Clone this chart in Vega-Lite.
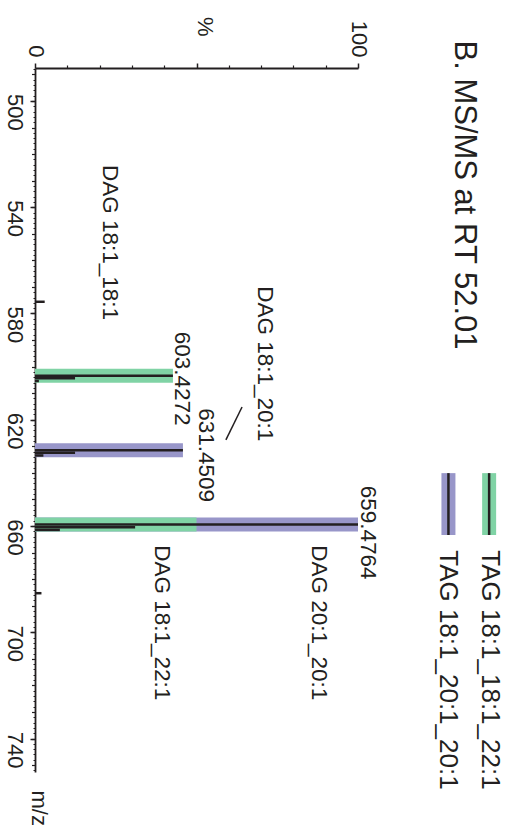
{
  "$schema": "https://vega.github.io/schema/vega-lite/v6.json",
  "autosize": "none",
  "width": 323,
  "height": 704,
  "padding": {"left": 35, "top": 68, "right": 156, "bottom": 59},
  "background": "white",
  "data": {"values": [{}]},
  "config": {
    "view": {"stroke": null},
    "font": "Liberation Sans",
    "axis": {"domainColor": "#231f20", "tickColor": "#231f20", "labelColor": "#231f20", "titleColor": "#231f20", "labelFont": "Liberation Sans", "titleFont": "Liberation Sans", "grid": false}
  },
  "datasets": {
    "bands": [
      {"mz": 631.4509, "pct": 45.8, "species": "TAG 18:1_20:1_20:1"},
      {"mz": 659.4764, "pct": 100, "species": "TAG 18:1_20:1_20:1"},
      {"mz": 603.4272, "pct": 42.7, "species": "TAG 18:1_18:1_22:1"},
      {"mz": 659.4764, "pct": 50, "species": "TAG 18:1_18:1_22:1"}
    ],
    "spectrum": [
      {"mz": 575.6, "pct": 3},
      {"mz": 603.4272, "pct": 42.7},
      {"mz": 604.43, "pct": 12.4},
      {"mz": 605.43, "pct": 1.2},
      {"mz": 631.4509, "pct": 45.8},
      {"mz": 632.45, "pct": 12.4},
      {"mz": 633.45, "pct": 2.6},
      {"mz": 659.4764, "pct": 100},
      {"mz": 660.48, "pct": 31},
      {"mz": 661.48, "pct": 7.7},
      {"mz": 685.3, "pct": 2}
    ],
    "labels": [
      {"label": "603.4272", "mz": 604.5, "pct": 43.3},
      {"label": "631.4509", "mz": 633.3, "pct": 50.8},
      {"label": "659.4764", "mz": 662.5, "pct": 100.9},
      {"label": "DAG 18:1_18:1", "mz": 553.3, "pct": 21.1},
      {"label": "DAG 18:1_20:1", "mz": 598.9, "pct": 69.0},
      {"label": "DAG 18:1_22:1", "mz": 696.4, "pct": 37.2},
      {"label": "DAG 20:1_20:1", "mz": 696.4, "pct": 85.8}
    ],
    "leader": [
      {"pct1": 64.1, "mz1": 615.2, "pct2": 59.1, "mz2": 627.6}
    ]
  },
  "resolve": {"axis": {"x": "independent", "y": "independent"}},
  "layer": [
    {
      "data": {"name": "bands"},
      "mark": {"type": "rule", "strokeWidth": 14, "strokeCap": "butt"},
      "encoding": {
        "y": {"field": "mz", "type": "quantitative", "scale": {"domain": [487.6, 752.6], "reverse": true, "nice": false, "zero": false},
          "axis": {"orient": "left", "values": [490,500,510,520,530,540,550,560,570,580,590,600,610,620,630,640,650,660,670,680,690,700,710,720,730,740,750], "tickSize": 3.5, "tickWidth": 1.2, "labels": false, "domain": false, "title": null}},
        "x": {"field": "pct", "type": "quantitative", "scale": {"domain": [0, 100], "nice": false, "zero": false},
          "axis": {"orient": "top", "values": [10,20,30,40,60,70,80,90], "tickSize": 3, "tickWidth": 1.2, "labels": false, "domain": false, "title": null}},
        "x2": {"datum": 0},
        "color": {"field": "species", "type": "nominal", "scale": {"domain": ["TAG 18:1_18:1_22:1", "TAG 18:1_20:1_20:1"], "range": ["#80d3a5", "#9896c9"]}, "legend": null}
      }
    },
    {
      "data": {"name": "spectrum"},
      "mark": {"type": "rule", "strokeWidth": 2.5, "color": "#231f20", "strokeCap": "butt"},
      "encoding": {
        "y": {"field": "mz", "type": "quantitative", "scale": {"domain": [487.6, 752.6], "reverse": true, "nice": false, "zero": false},
          "axis": {"orient": "left", "values": [500,540,580,620,660,700,740], "tickSize": 5, "tickWidth": 1.5, "domainWidth": 1.8,
            "labelAngle": 90, "labelAlign": "center", "labelBaseline": "top", "labelOffset": 11, "labelPadding": 6, "labelFontSize": 22,
            "title": "m/z", "titleAngle": 90, "titleAlign": "left", "titleBaseline": "alphabetic", "titleX": -4, "titleY": 722, "titleFontSize": 22, "titleFontWeight": "normal"}},
        "x": {"field": "pct", "type": "quantitative", "scale": {"domain": [0, 100], "nice": false, "zero": false},
          "axis": {"orient": "top", "values": [0, 50, 100], "tickSize": 5, "tickWidth": 1.5, "domainWidth": 1.8,
            "labelExpr": "datum.value == 50 ? '' : datum.label", "labelAngle": 90, "labelAlign": "right", "labelBaseline": "middle", "labelPadding": 6, "labelFontSize": 22,
            "title": "%", "titleAngle": 90, "titleAlign": "right", "titleBaseline": "middle", "titleX": 169, "titleY": -32, "titleFontSize": 22, "titleFontWeight": "normal"}},
        "x2": {"datum": 0}
      }
    },
    {
      "data": {"name": "labels"},
      "mark": {"type": "text", "angle": 90, "align": "center", "baseline": "alphabetic", "fontSize": 22.5, "color": "#231f20", "font": "Liberation Sans"},
      "encoding": {
        "y": {"field": "mz", "type": "quantitative", "scale": {"domain": [487.6, 752.6], "reverse": true, "nice": false, "zero": false},
          "axis": {"orient": "left", "tickCount": 130, "tickSize": 2, "tickWidth": 1, "labels": false, "domain": false, "title": null}},
        "x": {"field": "pct", "type": "quantitative", "scale": {"domain": [0, 100], "nice": false, "zero": false}, "axis": null},
        "text": {"field": "label"}
      }
    },
    {
      "data": {"name": "leader"},
      "mark": {"type": "rule", "strokeWidth": 1.5, "color": "#231f20"},
      "encoding": {
        "x": {"field": "pct1", "type": "quantitative", "scale": {"domain": [0, 100], "nice": false, "zero": false}, "axis": null},
        "x2": {"field": "pct2"},
        "y": {"field": "mz1", "type": "quantitative", "scale": {"domain": [487.6, 752.6], "reverse": true, "nice": false, "zero": false}, "axis": null},
        "y2": {"field": "mz2"}
      }
    },
    {
      "mark": {"type": "text", "angle": 90, "align": "center", "baseline": "alphabetic", "fontSize": 31, "color": "#231f20", "font": "Liberation Sans"},
      "encoding": {
        "x": {"datum": 130, "type": "quantitative", "axis": null},
        "y": {"datum": 535.4, "type": "quantitative", "axis": null},
        "text": {"value": "B. MS/MS at RT 52.01"}
      }
    },
    {
      "mark": {"type": "rule", "strokeWidth": 14, "strokeCap": "butt", "color": "#80d3a5"},
      "encoding": {
        "x": {"datum": 140.6, "type": "quantitative", "axis": null},
        "y": {"datum": 640.1, "type": "quantitative", "axis": null},
        "y2": {"datum": 663.4}
      }
    },
    {
      "mark": {"type": "rule", "strokeWidth": 2.5, "strokeCap": "butt", "color": "#231f20"},
      "encoding": {
        "x": {"datum": 140.6, "type": "quantitative", "axis": null},
        "y": {"datum": 640.1, "type": "quantitative", "axis": null},
        "y2": {"datum": 663.4}
      }
    },
    {
      "mark": {"type": "rule", "strokeWidth": 14, "strokeCap": "butt", "color": "#9896c9"},
      "encoding": {
        "x": {"datum": 128.0, "type": "quantitative", "axis": null},
        "y": {"datum": 640.1, "type": "quantitative", "axis": null},
        "y2": {"datum": 663.4}
      }
    },
    {
      "mark": {"type": "rule", "strokeWidth": 2.5, "strokeCap": "butt", "color": "#231f20"},
      "encoding": {
        "x": {"datum": 128.0, "type": "quantitative", "axis": null},
        "y": {"datum": 640.1, "type": "quantitative", "axis": null},
        "y2": {"datum": 663.4}
      }
    },
    {
      "mark": {"type": "text", "angle": 90, "align": "left", "baseline": "alphabetic", "fontSize": 26, "color": "#231f20", "font": "Liberation Sans"},
      "encoding": {
        "x": {"datum": 138.4, "type": "quantitative", "axis": null},
        "y": {"datum": 669.1, "type": "quantitative", "axis": null},
        "text": {"value": "TAG 18:1_18:1_22:1"}
      }
    },
    {
      "mark": {"type": "text", "angle": 90, "align": "left", "baseline": "alphabetic", "fontSize": 26, "color": "#231f20", "font": "Liberation Sans"},
      "encoding": {
        "x": {"datum": 125.4, "type": "quantitative", "axis": null},
        "y": {"datum": 669.1, "type": "quantitative", "axis": null},
        "text": {"value": "TAG 18:1_20:1_20:1"}
      }
    }
  ]
}
